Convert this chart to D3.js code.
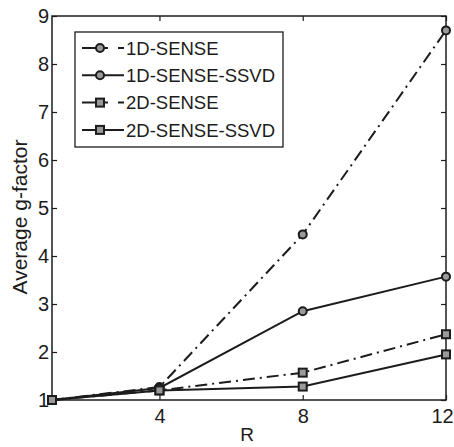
<!DOCTYPE html>
<html>
<head>
<meta charset="utf-8">
<script src="https://cdn.jsdelivr.net/npm/d3@7"></script>
<style>
  body { margin: 0; background: #fff; }
  svg { display: block; font-family: "Liberation Sans", Arial, sans-serif; }
</style>
</head>
<body>
<div id="chart"></div>
<script>
// data
const rValues = [1, 4, 8, 12];
const sense1D = [1, 1.27, 4.45, 8.7];
const sense1DSSVD = [1, 1.25, 2.85, 3.57];
const sense2D = [1, 1.2, 1.57, 2.37];
const sense2DSSVD = [1, 1.2, 1.28, 1.95];
const seriesNames = ["1D-SENSE", "1D-SENSE-SSVD", "2D-SENSE", "2D-SENSE-SSVD"];
const xTicks = [4, 8, 12];
const yTicks = [1, 2, 3, 4, 5, 6, 7, 8, 9];

const series = [
  { name: seriesNames[0], values: sense1D, dash: "12,5,2,5", marker: "circle" },
  { name: seriesNames[1], values: sense1DSSVD, dash: null, marker: "circle" },
  { name: seriesNames[2], values: sense2D, dash: "12,5,2,5", marker: "square" },
  { name: seriesNames[3], values: sense2DSSVD, dash: null, marker: "square" }
];

const W = 454, H = 447;
const margin = { top: 16, right: 8, bottom: 47, left: 52 };
const width = W - margin.left - margin.right;
const height = H - margin.top - margin.bottom;
const ink = "#1c1c1c";

const svg = d3.select("#chart").append("svg")
  .attr("width", W).attr("height", H);
const g = svg.append("g").attr("transform", `translate(${margin.left},${margin.top})`);

const x = d3.scaleLinear().domain([1, 12]).range([0, width]);
const y = d3.scaleLinear().domain([1, 9]).range([height, 0]);

// axes with inward ticks (box style)
function styleAxis(sel) {
  sel.select(".domain").remove();
  sel.selectAll("line").attr("stroke", ink).attr("stroke-width", 1.2);
  sel.selectAll("text").attr("fill", ink).style("font-size", "20px");
}
g.append("g").attr("transform", `translate(0,${height})`)
  .call(d3.axisBottom(x).tickValues(xTicks).tickSizeInner(-5).tickSizeOuter(0).tickPadding(9))
  .call(styleAxis)
  .selectAll("text").filter(d => d === 12).attr("dx", -4);
g.append("g")
  .call(d3.axisLeft(y).tickValues(yTicks).tickSizeInner(-5).tickSizeOuter(0).tickPadding(3))
  .call(styleAxis);
g.append("g")
  .call(d3.axisTop(x).tickValues(xTicks).tickSizeInner(-5).tickSizeOuter(0).tickFormat(""))
  .call(styleAxis);
g.append("g").attr("transform", `translate(${width},0)`)
  .call(d3.axisRight(y).tickValues(yTicks).tickSizeInner(-5).tickSizeOuter(0).tickFormat(""))
  .call(styleAxis);

g.append("rect").attr("width", width).attr("height", height)
  .attr("fill", "none").attr("stroke", ink).attr("stroke-width", 1.5);

const line = d3.line().x((d, i) => x(rValues[i])).y(d => y(d));

function drawMarker(sel, type) {
  if (type === "circle") {
    sel.append("circle").attr("r", 4)
      .attr("fill", "#9a9a9a").attr("stroke", ink).attr("stroke-width", 2);
  } else {
    sel.append("rect").attr("x", -4).attr("y", -4).attr("width", 8).attr("height", 8)
      .attr("fill", "#9a9a9a").attr("stroke", ink).attr("stroke-width", 2);
  }
}

series.forEach(s => {
  g.append("path").datum(s.values)
    .attr("d", line)
    .attr("fill", "none").attr("stroke", ink).attr("stroke-width", 2)
    .attr("stroke-dasharray", s.dash);
  g.selectAll(null).data(s.values).join("g")
    .attr("transform", (d, i) => `translate(${x(rValues[i])},${y(d)})`)
    .each(function () { drawMarker(d3.select(this), s.marker); });
});

// legend
const legend = g.append("g").attr("transform", `translate(${75 - margin.left},${32 - margin.top})`);
legend.append("rect").attr("width", 208).attr("height", 115)
  .attr("fill", "#fff").attr("stroke", ink).attr("stroke-width", 1.3);
series.forEach((s, i) => {
  const ly = 16 + i * 27.3;
  const row = legend.append("g").attr("transform", `translate(0,${ly})`);
  row.append("line").attr("x1", 7).attr("x2", 49).attr("y1", 0).attr("y2", 0)
    .attr("stroke", ink).attr("stroke-width", 2)
    .attr("stroke-dasharray", s.dash ? "26,10,6,20" : null);
  const m = row.append("g").attr("transform", "translate(25,0)");
  drawMarker(m, s.marker);
  row.append("text").attr("x", 51).attr("y", 0).attr("dy", "0.36em")
    .attr("fill", ink).style("font-size", "18.5px").text(s.name);
});

// axis labels
svg.append("text").attr("x", 247).attr("y", 441)
  .attr("text-anchor", "middle").attr("fill", ink).style("font-size", "19px").text("R");
svg.append("text")
  .attr("transform", `translate(27,217) rotate(-90)`)
  .attr("text-anchor", "middle").attr("fill", ink).style("font-size", "21px")
  .text("Average g-factor");
</script>
</body>
</html>
